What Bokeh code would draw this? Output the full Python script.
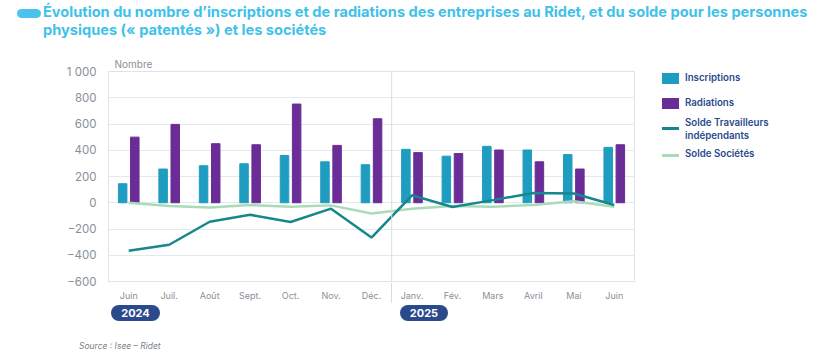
from bokeh.plotting import figure
from bokeh.models import Range1d, FixedTicker, Span, Div
from bokeh.layouts import column, row
from bokeh.embed import file_html
from bokeh.resources import INLINE

months = ["Juin", "Juil.", "Août", "Sept.", "Oct.", "Nov.", "Déc.",
          "Janv.", "Fév.", "Mars", "Avril", "Mai", "Juin"]
inscriptions = [145, 257, 282, 297, 360, 312, 290, 407, 355, 430, 402, 367, 422]
radiations = [500, 597, 450, 442, 752, 437, 640, 382, 375, 402, 312, 257, 442]
solde_ti = [-365, -320, -145, -92, -147, -45, -265, 57, -32, 20, 75, 70, -17]
solde_soc = [0, -25, -37, -17, -30, -20, -82, -45, -25, -30, -17, 12, -30]
years = ["2024", "2025"]
y_ticks = [-600, -400, -200, 0, 200, 400, 600, 800, 1000]
y_tick_labels = ["−600", "−400", "−200", "0", "200", "400", "600", "800", "1 000"]
series_names = ["Inscriptions", "Radiations", "Solde Travailleurs<br>indépendants",
                "Solde Sociétés"]

FONT = "Inter"
C_INS, C_RAD, C_TI, C_SOC = "#1f9dc0", "#6a2c96", "#16878c", "#a9dbb9"
NAVY = "#2b4a8b"
GRAY = "#8a8f96"

x = list(range(len(months)))
x_ins = [i - 0.15 for i in x]
x_rad = [i + 0.15 for i in x]

# ---- Title ----
title_html = f"""
<div style="position:relative;width:835px;height:45px;font-family:{FONT};">
  <div style="position:absolute;left:17px;top:9px;width:24px;height:9px;
              border-radius:5px;background:#4cc3ec;"></div>
  <div style="position:absolute;left:43px;top:3px;font-size:14.6px;font-weight:700;
              line-height:18px;color:#3fc1e8;white-space:nowrap;">
    Évolution du nombre d’inscriptions et de radiations des entreprises au Ridet, et du solde pour les personnes<br>
    physiques (« patentés ») et les sociétés
  </div>
</div>"""
title_div = Div(text=title_html, width=835, height=45, margin=0)

# ---- Main figure ----
p = figure(width=640, height=258, x_range=Range1d(-0.5, len(months) - 0.5),
           y_range=Range1d(-600, 1000), output_backend="svg", toolbar_location=None,
           min_border_left=108, min_border_right=6, min_border_top=26,
           min_border_bottom=20, title="Nombre", margin=0)
p.title.align = "left"
p.title.offset = 6
p.title.text_font = FONT
p.title.text_font_size = "10px"
p.title.text_font_style = "normal"
p.title.text_color = GRAY
p.title.standoff = 4

p.outline_line_color = "#dce4ea"
p.xgrid.grid_line_color = None
p.ygrid.grid_line_color = "#e3eaef"
p.ygrid.ticker = FixedTicker(ticks=y_ticks)

p.yaxis.ticker = FixedTicker(ticks=y_ticks)
p.yaxis.major_label_overrides = {t: l for t, l in zip(y_ticks, y_tick_labels)}
p.xaxis.ticker = FixedTicker(ticks=x)
p.xaxis.major_label_overrides = {i: m for i, m in zip(x, months)}
for ax in (p.xaxis[0], p.yaxis[0]):
    ax.axis_line_color = None
    ax.major_tick_line_color = None
    ax.minor_tick_line_color = None
    ax.major_label_text_color = GRAY
    ax.major_label_text_font = FONT
p.yaxis.major_label_text_font_size = "11.5px"
p.yaxis.major_label_standoff = 6
p.xaxis.major_label_text_font_size = "9px"
p.xaxis.major_label_standoff = 2

p.add_layout(Span(location=6.5, dimension="height", line_color="#d5dee5", line_width=1))

p.vbar(x=x_ins, top=inscriptions, bottom=0, width=0.21, color=C_INS)
p.vbar(x=x_rad, top=radiations, bottom=0, width=0.21, color=C_RAD)
p.line(x, solde_soc, line_color=C_SOC, line_width=2.5)
p.line(x, solde_ti, line_color=C_TI, line_width=2.5)

# ---- Legend (HTML) ----
lg_style = (f"position:absolute;left:45px;font-size:9.7px;font-weight:600;"
            f"color:{NAVY};line-height:13px;white-space:nowrap;")
legend_html = f"""
<div style="position:relative;width:195px;height:258px;font-family:{FONT};">
  <div style="position:absolute;left:22px;top:28px;width:17px;height:11px;background:{C_INS};"></div>
  <div style="{lg_style}top:26px;">{series_names[0]}</div>
  <div style="position:absolute;left:22px;top:53px;width:17px;height:11px;background:{C_RAD};"></div>
  <div style="{lg_style}top:51px;">{series_names[1]}</div>
  <div style="position:absolute;left:22px;top:82px;width:17px;height:2.5px;background:{C_TI};"></div>
  <div style="{lg_style}top:71px;">{series_names[2]}</div>
  <div style="position:absolute;left:22px;top:109px;width:17px;height:2.5px;background:{C_SOC};"></div>
  <div style="{lg_style}top:102px;">{series_names[3]}</div>
</div>"""
legend_div = Div(text=legend_html, width=195, height=258, margin=0)

# ---- Year pills and source ----
pill = (f"position:absolute;top:2px;height:16px;border-radius:8px;background:{NAVY};"
        f"color:white;font-size:11px;font-weight:700;text-align:center;line-height:16px;")
bottom_html = f"""
<div style="position:relative;width:835px;height:48px;font-family:{FONT};">
  <div style="position:absolute;left:391px;top:-20px;width:1px;height:20px;background:#d5dee5;"></div>
  <div style="{pill}left:111px;width:49px;">{years[0]}</div>
  <div style="{pill}left:400px;width:48px;">{years[1]}</div>
  <div style="position:absolute;left:79px;top:37px;font-size:8.5px;font-style:italic;
              color:#7a7f86;white-space:nowrap;">Source : Isee – Ridet</div>
</div>"""
bottom_div = Div(text=bottom_html, width=835, height=48, margin=0)

layout = column(title_div, row(p, legend_div, spacing=0), bottom_div, spacing=0)

open("out.html", "w").write(file_html(layout, INLINE))
